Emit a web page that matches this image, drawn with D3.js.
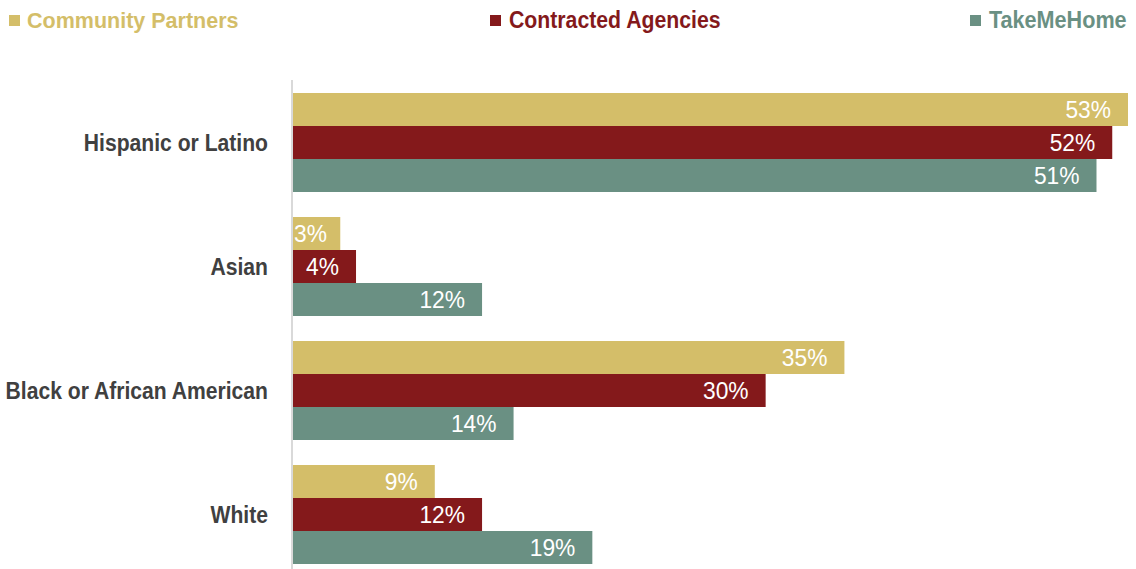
<!DOCTYPE html>
<html>
<head>
<meta charset="utf-8">
<script src="https://cdn.jsdelivr.net/npm/d3@7"></script>
<style>
  html, body { margin: 0; padding: 0; background: #fff; }
  svg { display: block; }
</style>
</head>
<body>
<svg id="chart" width="1136" height="569"></svg>
<script>
// Share of each group, percent
const categories = ["Hispanic or Latino", "Asian", "Black or African American", "White"];
const seriesNames = ["Community Partners", "Contracted Agencies", "TakeMeHome"];
const communityPartners = [53, 3, 35, 9];
const contractedAgencies = [52, 4, 30, 12];
const takeMeHome = [51, 12, 14, 19];
const seriesColors = ["#D4BE69", "#84191B", "#6A9083"];

const seriesValues = [communityPartners, contractedAgencies, takeMeHome];
const rows = categories.map((c, i) => ({
  category: c,
  values: seriesNames.map((s, j) => ({ series: s, value: seriesValues[j][i], color: seriesColors[j] }))
}));

const svg = d3.select("#chart");
const H = 569;
const baseX = 293;
const sans = "'Liberation Sans', Arial, sans-serif";

// narrow look: Arial-metric font squeezed horizontally
const narrow = 0.88;

const x = d3.scaleLinear().domain([0, 53]).range([baseX, baseX + 835]);
const y0 = d3.scaleBand().domain(categories).range([80.5, 576.5])
  .paddingInner(25 / 124).paddingOuter(25 / 248);
const y1 = d3.scaleBand().domain(seriesNames).range([0, y0.bandwidth()]);

// vertical category axis line
svg.append("line")
  .attr("x1", 292).attr("x2", 292).attr("y1", 80).attr("y2", H)
  .attr("stroke", "#d9d9d9").attr("stroke-width", 2);

const groups = svg.selectAll("g.group").data(rows).join("g")
  .attr("class", "group")
  .attr("transform", d => `translate(0,${y0(d.category)})`);

groups.selectAll("rect").data(d => d.values).join("rect")
  .attr("x", x(0))
  .attr("y", d => y1(d.series))
  .attr("width", d => x(d.value) - x(0))
  .attr("height", y1.bandwidth())
  .attr("fill", d => d.color);

// value labels, inside the bar end
const valScale = 0.95;
groups.selectAll("text.val").data(d => d.values).join("text")
  .attr("class", "val")
  .attr("dy", "0.35em")
  .attr("text-anchor", "end")
  .attr("fill", "#ffffff")
  .style("font-family", sans)
  .style("font-size", "24px")
  .text(d => d.value + "%")
  .each(function(d) {
    const w = this.getComputedTextLength() * valScale;
    const end = Math.max(x(d.value) - 17, x(0) + w + 1);
    const cy = y1(d.series) + y1.bandwidth() / 2;
    d3.select(this).attr("transform", `translate(${end},${cy}) scale(${valScale},1)`);
  });

// category labels
svg.selectAll("text.cat").data(categories).join("text")
  .attr("class", "cat")
  .attr("transform", d => `translate(268,${y0(d) + y0.bandwidth() / 2}) scale(${narrow},1)`)
  .attr("dy", "0.35em")
  .attr("text-anchor", "end")
  .attr("fill", "#404040")
  .style("font-family", sans)
  .style("font-weight", "bold")
  .style("font-size", "24px")
  .text(d => d);

// legend
const legendPos = [9, 490, 970];
const legendSize = ["21.5px", "24px", "24px"];
const legendSqueeze = [1, 0.885, 0.9];
const legend = svg.selectAll("g.legend").data(seriesNames).join("g")
  .attr("class", "legend")
  .attr("transform", (d, i) => `translate(${legendPos[i]},20)`);
legend.append("rect")
  .attr("x", 0).attr("y", -5).attr("width", 11).attr("height", 11)
  .attr("fill", (d, i) => seriesColors[i]);
legend.append("text")
  .attr("transform", (d, i) => `translate(${i === 0 ? 18 : 19},0) scale(${legendSqueeze[i]},1)`)
  .attr("dy", "0.35em")
  .attr("fill", (d, i) => seriesColors[i])
  .style("font-family", sans)
  .style("font-weight", "bold")
  .style("font-size", (d, i) => legendSize[i])
  .text(d => d);
</script>
</body>
</html>
